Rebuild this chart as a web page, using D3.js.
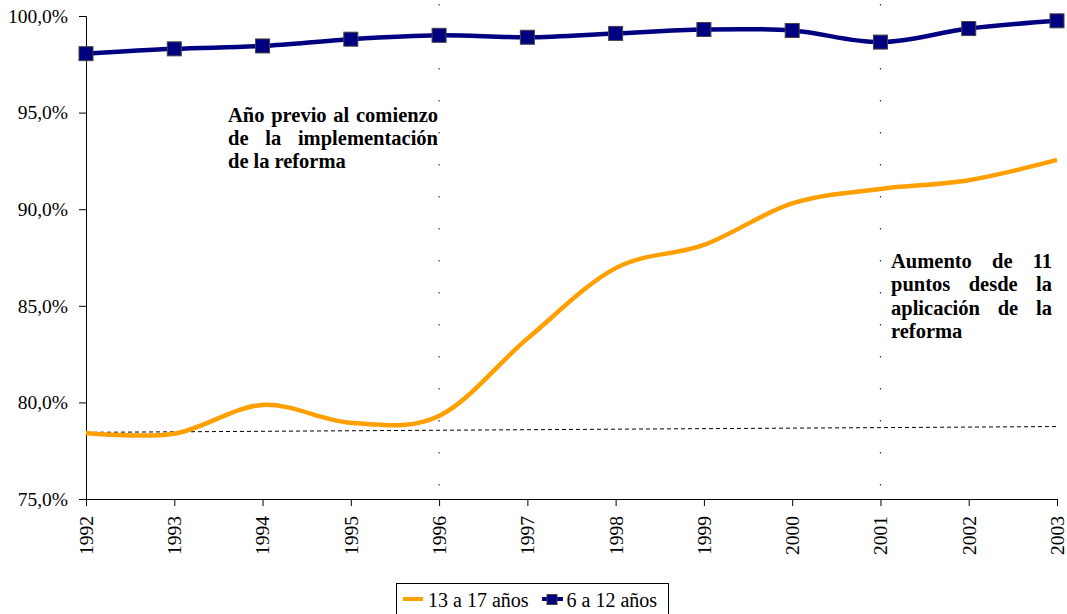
<!DOCTYPE html>
<html>
<head>
<meta charset="utf-8">
<script src="https://cdn.jsdelivr.net/npm/d3@7"></script>
<style>
    body { margin: 0; background: #fff; }
</style>
</head>
<body>
<div id="chart"></div>
<script>
// data
const years = [1992, 1993, 1994, 1995, 1996, 1997, 1998, 1999, 2000, 2001, 2002, 2003];
const teens = [78.42, 78.38, 79.87, 78.95, 79.3, 83.3, 86.95, 88.15, 90.3, 91.05, 91.5, 92.55];
const kids = [98.05, 98.3, 98.45, 98.8, 99.0, 98.9, 99.1, 99.3, 99.25, 98.65, 99.35, 99.75];
const baseYears = [1992, 2003];
const baseValues = [78.45, 78.75];
const markYears = [1996, 2001];
const yTicks = [75, 80, 85, 90, 95, 100];
const seriesNames = ['13 a 17 años', '6 a 12 años'];
const noteA = ['Año previo al comienzo', 'de la implementación', 'de la reforma'];
const noteB = ['Aumento de 11', 'puntos desde la', 'aplicación de la', 'reforma'];

const serif = "'Liberation Serif'";
const width = 1067;
const height = 614;
const margin = { top: 16, right: 10, bottom: 115, left: 86 };

const svg = d3
    .select('#chart')
    .append('svg')
    .attr('width', width)
    .attr('height', height);

const x = d3
    .scaleLinear()
    .domain([1992, 2003])
    .range([margin.left, width - margin.right]);

const y = d3
    .scaleLinear()
    .domain([75, 100])
    .range([height - margin.bottom, margin.top]);

const fmt = (d) => d3.format('.1f')(d).replace('.', ',') + '%';

// y axis
const yAxis = svg
    .append('g')
    .attr('transform', `translate(${margin.left},0)`)
    .call(d3.axisLeft(y).tickValues(yTicks).tickFormat(fmt).tickSize(7).tickPadding(11));
yAxis.selectAll('text').style('font-size', '19.5px');

// x axis
const xAxis = svg
    .append('g')
    .attr('transform', `translate(0,${height - margin.bottom})`)
    .call(d3.axisBottom(x).tickValues(years).tickFormat(d3.format('d')).tickSize(7));
xAxis
    .selectAll('text')
    .style('font-size', '19.5px')
    .attr('text-anchor', 'end')
    .attr('transform', 'rotate(-90)')
    .attr('x', -17)
    .attr('y', 0)
    .attr('dy', '0.33em');
svg.selectAll('.domain, .tick line').attr('stroke', '#000');

// vertical dotted markers
svg.append('g')
    .selectAll('line')
    .data(markYears)
    .join('line')
    .attr('x1', (d) => x(d))
    .attr('x2', (d) => x(d))
    .attr('y1', y(100) - 12)
    .attr('y2', y(75))
    .attr('stroke', '#333')
    .attr('stroke-width', 1.2)
    .attr('stroke-dasharray', '1.5,30.5');

// flat baseline
svg.append('line')
    .attr('x1', x(baseYears[0]))
    .attr('x2', x(baseYears[1]))
    .attr('y1', y(baseValues[0]))
    .attr('y2', y(baseValues[1]))
    .attr('stroke', '#000')
    .attr('stroke-width', 1)
    .attr('stroke-dasharray', '4,3');

const line = (vals) =>
    d3
        .line()
        .x((d, i) => x(years[i]))
        .y((d) => y(d))
        .curve(d3.curveCatmullRom.alpha(0))(vals);

svg.append('path')
    .attr('d', line(teens))
    .attr('fill', 'none')
    .attr('stroke', '#ff9f00')
    .attr('stroke-width', 4.5);

svg.append('path')
    .attr('d', line(kids))
    .attr('fill', 'none')
    .attr('stroke', '#000080')
    .attr('stroke-width', 4.5);

svg.append('g')
    .selectAll('rect')
    .data(kids)
    .join('rect')
    .attr('x', (d, i) => x(years[i]) - 7)
    .attr('y', (d) => y(d) - 7)
    .attr('width', 14)
    .attr('height', 14)
    .attr('fill', '#000080')
    .attr('stroke', '#444')
    .attr('stroke-width', 1);

// justified annotation blocks
function justify(lines, x0, x1, y0, lh) {
    const g = svg.append('g');
    lines.forEach((ln, i) => {
        const words = ln.split(' ');
        const t = g
            .append('text')
            .attr('y', y0 + i * lh)
            .style('font-family', serif)
            .style('font-size', '20.5px')
            .style('font-weight', 'bold');
        const spans = words.map((w) => t.append('tspan').text(w));
        const widths = spans.map((s) => s.node().getComputedTextLength());
        const total = d3.sum(widths);
        const last = i === lines.length - 1;
        const gap = last ? 5 : (x1 - x0 - total) / (words.length - 1);
        let cx = x0;
        spans.forEach((s, j) => {
            s.attr('x', cx);
            cx += widths[j] + gap;
        });
    });
}

// legend
const lg = svg.append('g');
lg.append('rect')
    .attr('x', 396.5)
    .attr('y', 583.5)
    .attr('width', 272)
    .attr('height', 40)
    .attr('fill', '#fff')
    .attr('stroke', '#000');
lg.append('line')
    .attr('x1', 403)
    .attr('x2', 423)
    .attr('y1', 599)
    .attr('y2', 599)
    .attr('stroke', '#ff9f00')
    .attr('stroke-width', 4);
lg.append('text')
    .attr('x', 428)
    .attr('y', 607)
    .style('font-size', '20px')
    .text(seriesNames[0]);
lg.append('line')
    .attr('x1', 542)
    .attr('x2', 563)
    .attr('y1', 599)
    .attr('y2', 599)
    .attr('stroke', '#000080')
    .attr('stroke-width', 4);
lg.append('rect')
    .attr('x', 547)
    .attr('y', 594.5)
    .attr('width', 10)
    .attr('height', 10)
    .attr('fill', '#000080')
    .attr('stroke', '#444');
lg.append('text')
    .attr('x', 566.5)
    .attr('y', 607)
    .style('font-size', '20px')
    .text(seriesNames[1]);

// every text in the serif face
svg.selectAll('text').style('font-family', serif).style('fill', '#000');

justify(noteA, 228, 438, 121.5, 23.4);
justify(noteB, 891, 1052, 268, 23.4);
</script>
</body>
</html>
